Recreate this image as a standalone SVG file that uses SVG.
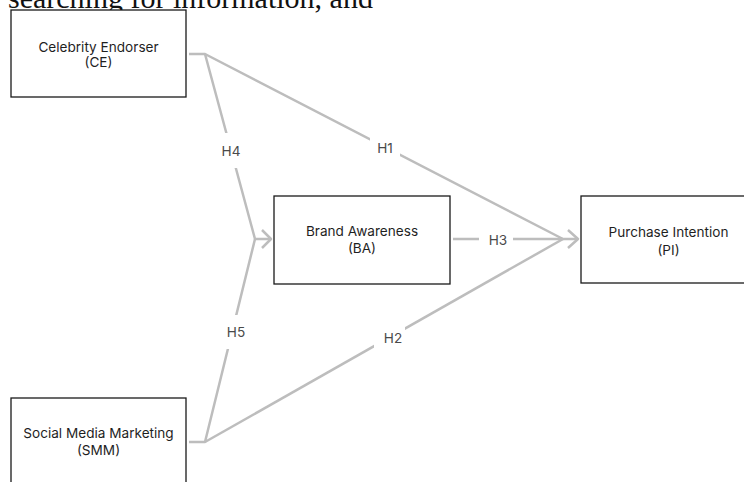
<svg xmlns="http://www.w3.org/2000/svg" width="744" height="482" viewBox="0 0 744 482">
<style>
.box{fill:#fff;stroke:#1a1a1a;stroke-width:1.3}
.t{font-family:Inter,"Noto Sans",sans-serif;font-size:13.6px;fill:#1f1f1f;text-anchor:middle}
.c{fill:none;stroke:#bdbdbd;stroke-width:2.5;stroke-linejoin:round}
.lb{fill:#fff}
.l{font-family:Inter,"Noto Sans",sans-serif;font-size:13.6px;fill:#4a4a4a;text-anchor:middle;dominant-baseline:central}
.head{font-family:"Liberation Serif",serif;font-size:30px;fill:#111}
</style>
<rect width="744" height="482" fill="#fff"/>
<text class="head" x="8" y="7.5">searching for information, and</text>
<g id="connectors">
<path class="c" d="M189 54 H205 L255 239 H270"/>
<path class="c" d="M205 54 L563 239 H577"/>
<path class="c" d="M189 442 H205 L255 239"/>
<path class="c" d="M205 442 L563 239"/>
<path class="c" d="M453 239 H563"/>
<path class="c" d="M262 230 L271 239 L262 248"/>
<path class="c" d="M568 230 L578 239 L568 248"/>
<rect class="lb" x="218" y="133" width="26" height="35"/>
<text class="l" x="231" y="151">H4</text>
<rect class="lb" x="370" y="136" width="30" height="24"/>
<text class="l" x="385" y="148">H1</text>
<rect class="lb" x="479" y="229" width="34" height="22"/>
<text class="l" x="498" y="240">H3</text>
<rect class="lb" x="222" y="315" width="28" height="34"/>
<text class="l" x="236" y="332">H5</text>
<rect class="lb" x="374" y="326" width="31" height="24"/>
<text class="l" x="393" y="338">H2</text>
</g>
<g id="CE">
<rect class="box" x="11" y="10" width="175" height="87"/>
<text class="t" x="98.5" y="51.5">Celebrity Endorser</text>
<text class="t" x="98.5" y="67">(CE)</text>
</g>
<g id="BA">
<rect class="box" x="274" y="196" width="176" height="88"/>
<text class="t" x="362" y="235.5">Brand Awareness</text>
<text class="t" x="362" y="252.5">(BA)</text>
</g>
<g id="PI">
<rect class="box" x="581" y="196" width="175" height="87"/>
<text class="t" x="668.5" y="236.5">Purchase Intention</text>
<text class="t" x="668.5" y="254.5">(PI)</text>
</g>
<g id="SMM">
<rect class="box" x="11" y="398" width="175" height="100"/>
<text class="t" x="98.5" y="437.5">Social Media Marketing</text>
<text class="t" x="98.5" y="454.5">(SMM)</text>
</g>
</svg>
